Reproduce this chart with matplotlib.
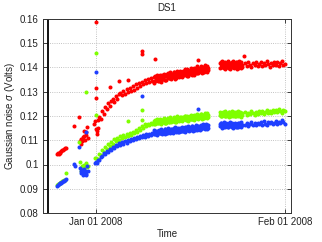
import datetime as dt
import matplotlib
matplotlib.use("Agg")
import matplotlib.pyplot as plt
import matplotlib.dates as mdates
from matplotlib.ticker import FuncFormatter, FixedLocator

plt.rcParams['font.family'] = ['Liberation Sans', 'DejaVu Sans']
plt.rcParams['mathtext.fontset'] = 'custom'
plt.rcParams['mathtext.it'] = 'Liberation Sans:italic'
plt.rcParams['mathtext.rm'] = 'Liberation Sans'

# ---- data: days relative to Jan 01 2008 ----
days_early = [-6.45, -6.3, -6.15, -6.0, -5.85, -5.7, -5.55, -5.4, -5.25, -5.1, -4.95,
              -2.6, -2.5, -2.4, -2.3, -2.2, -2.1, -2.0, -1.9, -1.8, -1.7, -1.6, -1.5, -1.4]
red_early = [0.1045, 0.1048, 0.1042, 0.1048, 0.1050, 0.1055, 0.1058, 0.1060, 0.1063, 0.1066, 0.1070,
             0.1095, 0.1085, 0.1105, 0.1098, 0.1112, 0.1102, 0.1118, 0.1140, 0.1102, 0.1122, 0.1132, 0.1155, 0.1108]
green_early = [0.0915, 0.0918, 0.0920, 0.0922, 0.0925, 0.0928, 0.0930, 0.0932, 0.0935, 0.0938, 0.0965,
               0.1012, 0.0985, 0.0975, 0.0995, 0.0980, 0.0992, 0.0985, 0.0998, 0.0975, 0.0995, 0.1005, 0.0988, 0.0992]
blue_early = [0.0910, 0.0915, 0.0920, 0.0922, 0.0925, 0.0925, 0.0928, 0.0930, 0.0932, 0.0935, 0.0940,
              0.0985, 0.0975, 0.0965, 0.0978, 0.0970, 0.0958, 0.0968, 0.0980, 0.0972, 0.0962, 0.0955, 0.0995, 0.0975]

days_c1 = [0.00, 0.25, 0.50, 0.75, 1.00, 1.25, 1.50, 1.75, 2.00, 2.25,
           2.50, 2.75, 3.00, 3.25, 3.50, 3.75, 4.00, 4.25, 4.50, 4.75,
           5.00, 5.25, 5.50, 5.75, 6.00, 6.25, 6.50, 6.75, 7.00, 7.25,
           7.50, 7.75, 8.00, 8.25, 8.50, 8.75, 9.00, 9.25]
red_c1 = [0.1148, 0.1182, 0.1195, 0.1188, 0.1222, 0.1210, 0.1238, 0.1229, 0.1252, 0.1241,
          0.1262, 0.1270, 0.1258, 0.1283, 0.1272, 0.1292, 0.1296, 0.1285, 0.1302, 0.1290,
          0.1310, 0.1299, 0.1317, 0.1305, 0.1322, 0.1309, 0.1330, 0.1316, 0.1338, 0.1325,
          0.1341, 0.1330, 0.1348, 0.1336, 0.1352, 0.1339, 0.1355, 0.1343]
green_c1 = [0.1028, 0.1022, 0.1045, 0.1038, 0.1058, 0.1050, 0.1072, 0.1064, 0.1085, 0.1076,
            0.1094, 0.1086, 0.1104, 0.1097, 0.1110, 0.1102, 0.1116, 0.1109, 0.1121, 0.1114,
            0.1126, 0.1118, 0.1131, 0.1123, 0.1136, 0.1129, 0.1142, 0.1135, 0.1149, 0.1142,
            0.1158, 0.1150, 0.1166, 0.1158, 0.1168, 0.1161, 0.1172, 0.1165]
blue_c1 = [0.1012, 0.1020, 0.1018, 0.1032, 0.1037, 0.1048, 0.1043, 0.1056, 0.1052, 0.1064,
           0.1060, 0.1072, 0.1068, 0.1080, 0.1076, 0.1087, 0.1082, 0.1092, 0.1086, 0.1097,
           0.1090, 0.1101, 0.1096, 0.1106, 0.1100, 0.1110, 0.1104, 0.1114, 0.1108, 0.1118,
           0.1112, 0.1121, 0.1115, 0.1124, 0.1118, 0.1127, 0.1121, 0.1129]

days_c2 = [9.50, 9.65, 9.80, 9.95, 10.10, 10.25, 10.40, 10.55, 10.70, 10.85,
           11.00, 11.15, 11.30, 11.45, 11.60, 11.75, 11.90, 12.05, 12.20, 12.35,
           12.50, 12.65, 12.80, 12.95, 13.10, 13.25, 13.40, 13.55, 13.70, 13.85,
           14.00, 14.15, 14.30, 14.45, 14.60, 14.75, 14.90, 15.05, 15.20, 15.35,
           15.50, 15.65, 15.80, 15.95, 16.10, 16.25, 16.40, 16.55, 16.70, 16.85,
           17.00, 17.15, 17.30, 17.45, 17.60, 17.75, 17.90, 18.05, 18.20, 18.35]
red_c2 = [0.1360, 0.1343, 0.1356, 0.1348, 0.1367, 0.1354, 0.1345, 0.1362, 0.1354, 0.1368,
          0.1353, 0.1367, 0.1350, 0.1364, 0.1373, 0.1359, 0.1368, 0.1356, 0.1373, 0.1366,
          0.1372, 0.1360, 0.1380, 0.1366, 0.1358, 0.1378, 0.1371, 0.1381, 0.1367, 0.1376,
          0.1383, 0.1366, 0.1379, 0.1371, 0.1390, 0.1377, 0.1367, 0.1385, 0.1377, 0.1391,
          0.1376, 0.1389, 0.1373, 0.1387, 0.1396, 0.1381, 0.1391, 0.1379, 0.1396, 0.1389,
          0.1395, 0.1383, 0.1403, 0.1389, 0.1381, 0.1401, 0.1394, 0.1404, 0.1390, 0.1399]
green_c2 = [0.1181, 0.1168, 0.1177, 0.1172, 0.1185, 0.1176, 0.1170, 0.1182, 0.1175, 0.1185,
            0.1175, 0.1184, 0.1172, 0.1182, 0.1189, 0.1178, 0.1186, 0.1177, 0.1188, 0.1183,
            0.1188, 0.1178, 0.1193, 0.1183, 0.1177, 0.1191, 0.1186, 0.1193, 0.1184, 0.1190,
            0.1195, 0.1182, 0.1191, 0.1186, 0.1199, 0.1190, 0.1183, 0.1196, 0.1189, 0.1199,
            0.1189, 0.1198, 0.1187, 0.1196, 0.1203, 0.1192, 0.1200, 0.1191, 0.1202, 0.1197,
            0.1203, 0.1193, 0.1208, 0.1198, 0.1192, 0.1206, 0.1201, 0.1208, 0.1199, 0.1205]
blue_c2 = [0.1127, 0.1136, 0.1124, 0.1134, 0.1140, 0.1130, 0.1138, 0.1129, 0.1140, 0.1135,
           0.1140, 0.1130, 0.1145, 0.1135, 0.1130, 0.1144, 0.1138, 0.1145, 0.1136, 0.1142,
           0.1147, 0.1134, 0.1143, 0.1138, 0.1151, 0.1142, 0.1135, 0.1147, 0.1140, 0.1150,
           0.1140, 0.1149, 0.1137, 0.1147, 0.1153, 0.1142, 0.1150, 0.1141, 0.1152, 0.1147,
           0.1153, 0.1143, 0.1157, 0.1147, 0.1142, 0.1155, 0.1150, 0.1157, 0.1147, 0.1154,
           0.1159, 0.1146, 0.1155, 0.1150, 0.1163, 0.1154, 0.1147, 0.1160, 0.1153, 0.1163]

days_c2b = [9.58, 9.73, 9.88, 10.03, 10.18, 10.33, 10.48, 10.63, 10.78, 10.93,
            11.08, 11.23, 11.38, 11.53, 11.68, 11.83, 11.98, 12.13, 12.28, 12.43,
            12.58, 12.73, 12.88, 13.03, 13.18, 13.33, 13.48, 13.63, 13.78, 13.93,
            14.08, 14.23, 14.38, 14.53, 14.68, 14.83, 14.98, 15.13, 15.28, 15.43,
            15.58, 15.73, 15.88, 16.03, 16.18, 16.33, 16.48, 16.63, 16.78, 16.93,
            17.08, 17.23, 17.38, 17.53, 17.68, 17.83, 17.98, 18.13, 18.28, 18.42]
red_c2b = [0.1338, 0.1364, 0.1350, 0.1370, 0.1346, 0.1358, 0.1370, 0.1341, 0.1364, 0.1352,
           0.1375, 0.1349, 0.1368, 0.1347, 0.1367, 0.1376, 0.1356, 0.1382, 0.1353, 0.1368,
           0.1362, 0.1382, 0.1353, 0.1378, 0.1359, 0.1387, 0.1370, 0.1359, 0.1384, 0.1366,
           0.1361, 0.1387, 0.1373, 0.1393, 0.1369, 0.1381, 0.1392, 0.1364, 0.1387, 0.1375,
           0.1398, 0.1371, 0.1391, 0.1370, 0.1390, 0.1398, 0.1379, 0.1405, 0.1376, 0.1391,
           0.1385, 0.1405, 0.1376, 0.1401, 0.1382, 0.1410, 0.1393, 0.1382, 0.1407, 0.1389]
green_c2b = [0.1165, 0.1183, 0.1174, 0.1187, 0.1171, 0.1178, 0.1187, 0.1167, 0.1183, 0.1174,
             0.1190, 0.1172, 0.1186, 0.1171, 0.1185, 0.1190, 0.1177, 0.1195, 0.1175, 0.1185,
             0.1180, 0.1195, 0.1174, 0.1192, 0.1178, 0.1198, 0.1186, 0.1179, 0.1196, 0.1182,
             0.1179, 0.1197, 0.1188, 0.1201, 0.1185, 0.1192, 0.1201, 0.1181, 0.1197, 0.1188,
             0.1204, 0.1186, 0.1200, 0.1185, 0.1199, 0.1204, 0.1191, 0.1209, 0.1189, 0.1199,
             0.1195, 0.1209, 0.1189, 0.1206, 0.1193, 0.1212, 0.1201, 0.1193, 0.1211, 0.1197]
blue_c2b = [0.1142, 0.1124, 0.1138, 0.1123, 0.1137, 0.1142, 0.1129, 0.1147, 0.1127, 0.1137,
            0.1132, 0.1147, 0.1126, 0.1144, 0.1130, 0.1149, 0.1138, 0.1130, 0.1148, 0.1134,
            0.1131, 0.1149, 0.1140, 0.1153, 0.1136, 0.1144, 0.1152, 0.1132, 0.1148, 0.1139,
            0.1155, 0.1137, 0.1151, 0.1136, 0.1149, 0.1155, 0.1141, 0.1159, 0.1139, 0.1149,
            0.1145, 0.1159, 0.1139, 0.1156, 0.1142, 0.1162, 0.1150, 0.1142, 0.1160, 0.1146,
            0.1143, 0.1161, 0.1152, 0.1165, 0.1149, 0.1156, 0.1165, 0.1145, 0.1161, 0.1152]

days_d1 = [20.30, 20.43, 20.55, 20.68, 20.80, 20.93, 21.05, 21.18, 21.30, 21.43,
           21.55, 21.68, 21.80, 21.93, 22.05, 22.18, 22.30, 22.43, 22.55, 22.68,
           22.80, 22.93, 23.05, 23.18, 23.30, 23.43, 23.55, 23.68, 23.80, 23.93]
red_d1 = [0.1418, 0.1400, 0.1413, 0.1404, 0.1422, 0.1408, 0.1398, 0.1415, 0.1406, 0.1419,
          0.1403, 0.1416, 0.1399, 0.1412, 0.1420, 0.1405, 0.1414, 0.1401, 0.1417, 0.1409,
          0.1415, 0.1402, 0.1421, 0.1407, 0.1398, 0.1417, 0.1409, 0.1419, 0.1404, 0.1412]
green_d1 = [0.1203, 0.1212, 0.1200, 0.1209, 0.1215, 0.1204, 0.1211, 0.1202, 0.1213, 0.1207,
            0.1212, 0.1202, 0.1216, 0.1206, 0.1200, 0.1213, 0.1207, 0.1214, 0.1204, 0.1210,
            0.1214, 0.1201, 0.1210, 0.1204, 0.1216, 0.1207, 0.1200, 0.1212, 0.1205, 0.1214]
blue_d1 = [0.1167, 0.1157, 0.1171, 0.1161, 0.1155, 0.1168, 0.1162, 0.1169, 0.1159, 0.1165,
           0.1169, 0.1156, 0.1165, 0.1159, 0.1171, 0.1162, 0.1155, 0.1167, 0.1160, 0.1169,
           0.1158, 0.1167, 0.1155, 0.1164, 0.1170, 0.1159, 0.1166, 0.1157, 0.1168, 0.1162]

days_d1b = [20.36, 20.49, 20.61, 20.74, 20.86, 20.99, 21.11, 21.24, 21.36, 21.49,
            21.61, 21.74, 21.86, 21.99, 22.11, 22.24, 22.36, 22.49, 22.61, 22.74,
            22.86, 22.99, 23.11, 23.24, 23.36, 23.49, 23.61, 23.74, 23.86, 23.99]
red_d1b = [0.1396, 0.1421, 0.1407, 0.1426, 0.1401, 0.1412, 0.1423, 0.1394, 0.1416, 0.1403,
           0.1425, 0.1398, 0.1417, 0.1395, 0.1414, 0.1422, 0.1402, 0.1427, 0.1397, 0.1411,
           0.1405, 0.1424, 0.1394, 0.1419, 0.1399, 0.1426, 0.1408, 0.1397, 0.1421, 0.1402]
green_d1b = [0.1218, 0.1200, 0.1213, 0.1198, 0.1211, 0.1216, 0.1202, 0.1220, 0.1199, 0.1209,
             0.1204, 0.1218, 0.1197, 0.1214, 0.1200, 0.1219, 0.1207, 0.1199, 0.1216, 0.1202,
             0.1198, 0.1216, 0.1206, 0.1219, 0.1202, 0.1209, 0.1217, 0.1197, 0.1212, 0.1203]
blue_d1b = [0.1159, 0.1173, 0.1152, 0.1169, 0.1155, 0.1174, 0.1162, 0.1154, 0.1171, 0.1157,
            0.1153, 0.1171, 0.1161, 0.1174, 0.1157, 0.1164, 0.1172, 0.1152, 0.1167, 0.1158,
            0.1173, 0.1155, 0.1168, 0.1153, 0.1166, 0.1171, 0.1157, 0.1175, 0.1154, 0.1164]

days_d2 = [24.50, 24.75, 25.00, 25.25, 25.50, 25.75, 26.00, 26.25, 26.50, 26.75,
           27.00, 27.25, 27.50, 27.75, 28.00, 28.25, 28.50, 28.75, 29.00, 29.25,
           29.50, 29.75, 30.00, 30.25, 30.50, 30.75, 31.00]
red_d2 = [0.1418, 0.1405, 0.1424, 0.1410, 0.1401, 0.1420, 0.1412, 0.1422, 0.1407, 0.1415,
          0.1423, 0.1405, 0.1418, 0.1409, 0.1427, 0.1413, 0.1403, 0.1420, 0.1411, 0.1424,
          0.1410, 0.1423, 0.1406, 0.1419, 0.1427, 0.1412, 0.1415]
green_d2 = [0.1218, 0.1205, 0.1214, 0.1209, 0.1221, 0.1212, 0.1205, 0.1217, 0.1210, 0.1220,
            0.1211, 0.1220, 0.1208, 0.1217, 0.1224, 0.1213, 0.1221, 0.1212, 0.1223, 0.1218,
            0.1225, 0.1215, 0.1229, 0.1219, 0.1213, 0.1226, 0.1221]
blue_d2 = [0.1161, 0.1170, 0.1158, 0.1168, 0.1174, 0.1163, 0.1170, 0.1161, 0.1172, 0.1167,
           0.1174, 0.1164, 0.1178, 0.1168, 0.1162, 0.1175, 0.1170, 0.1177, 0.1167, 0.1173,
           0.1181, 0.1168, 0.1177, 0.1172, 0.1184, 0.1175, 0.1167]

red_extra_days = [-3.67, -2.85, 0.0, 0.0, 0.0, -0.3, -0.15, 0.1, 0.2, 0.35, 2.25, 3.8, 5.2, 7.5, 7.55, 9.7, 16.7, 24.3]
red_extra_vals = [0.1158, 0.1195, 0.1586, 0.1315, 0.1273, 0.1165, 0.1180, 0.1125, 0.1138, 0.1152,
                  0.1318, 0.1346, 0.1348, 0.1469, 0.1456, 0.1434, 0.1431, 0.1447]
green_extra_days = [-2.85, -1.7, 0.0, 0.0, 7.5, 7.5, -0.2, 5.2]
green_extra_vals = [0.1093, 0.1300, 0.1461, 0.1203, 0.1225, 0.1183, 0.1025, 0.1180]
blue_extra_days = [-3.67, -3.5, -2.85, -1.7, 0.0, 7.5, 16.7, -0.2, 0.1]
blue_extra_vals = [0.1001, 0.0995, 0.1073, 0.1135, 0.1383, 0.1283, 0.1229, 0.1005, 0.1008]

marker_day = -7.86
y_ticks = [0.08, 0.09, 0.10, 0.11, 0.12, 0.13, 0.14, 0.15, 0.16]
x_tick_dates = [dt.datetime(2008, 1, 1), dt.datetime(2008, 2, 1)]

# ---- build ----
base = mdates.date2num(dt.datetime(2008, 1, 1))
def to_x(d):
    return [base + v for v in d]

days_all = days_early + days_c1 + days_c2 + days_c2b + days_d1 + days_d1b + days_d2
series = [
    (red_early + red_c1 + red_c2 + red_c2b + red_d1 + red_d1b + red_d2,
     red_extra_days, red_extra_vals, '#ff0000'),
    (green_early + green_c1 + green_c2 + green_c2b + green_d1 + green_d1b + green_d2,
     green_extra_days, green_extra_vals, '#7fff00'),
    (blue_early + blue_c1 + blue_c2 + blue_c2b + blue_d1 + blue_d1b + blue_d2,
     blue_extra_days, blue_extra_vals, '#1f3fff'),
]

fig = plt.figure(figsize=(3.22, 2.42), dpi=100)
ax = fig.add_axes([43/322, 29/242, 248/322, 194/242])

for vals, ed, ev, col in series:
    ax.plot(to_x(days_all), vals, 'o', color=col, ms=2.9, mew=0, ls='none')
    ax.plot(to_x(ed), ev, 'o', color=col, ms=2.9, mew=0, ls='none')

ax.axvline(base + marker_day, color='black', lw=1.3)

ax.set_xlim(base - 8.71, base + 31.99)
ax.set_ylim(0.08, 0.16)
ax.yaxis.set_major_locator(FixedLocator(y_ticks))
ax.yaxis.set_major_formatter(FuncFormatter(lambda v, p: '%g' % round(v, 4)))
ax.xaxis.set_major_locator(FixedLocator(mdates.date2num(x_tick_dates)))
ax.xaxis.set_major_formatter(mdates.DateFormatter('%b %d %Y'))

ax.grid(True, ls=':', color='#b0b0b0', lw=0.6)
ax.set_axisbelow(True)
ax.tick_params(direction='in', top=True, right=True, length=3, width=0.6,
               labelsize=7, pad=3, colors='#222222')
for s in ax.spines.values():
    s.set_color('#333333')
    s.set_linewidth(0.7)

ax.set_title('DS1', fontsize=7, pad=6, color='#222222')
ax.set_xlabel('Time', fontsize=7, labelpad=1, color='#222222')
ax.set_ylabel(r'Gaussian noise $\sigma$ (Volts)', fontsize=7, labelpad=2, color='#222222')

fig.savefig('out.png', dpi=100)
